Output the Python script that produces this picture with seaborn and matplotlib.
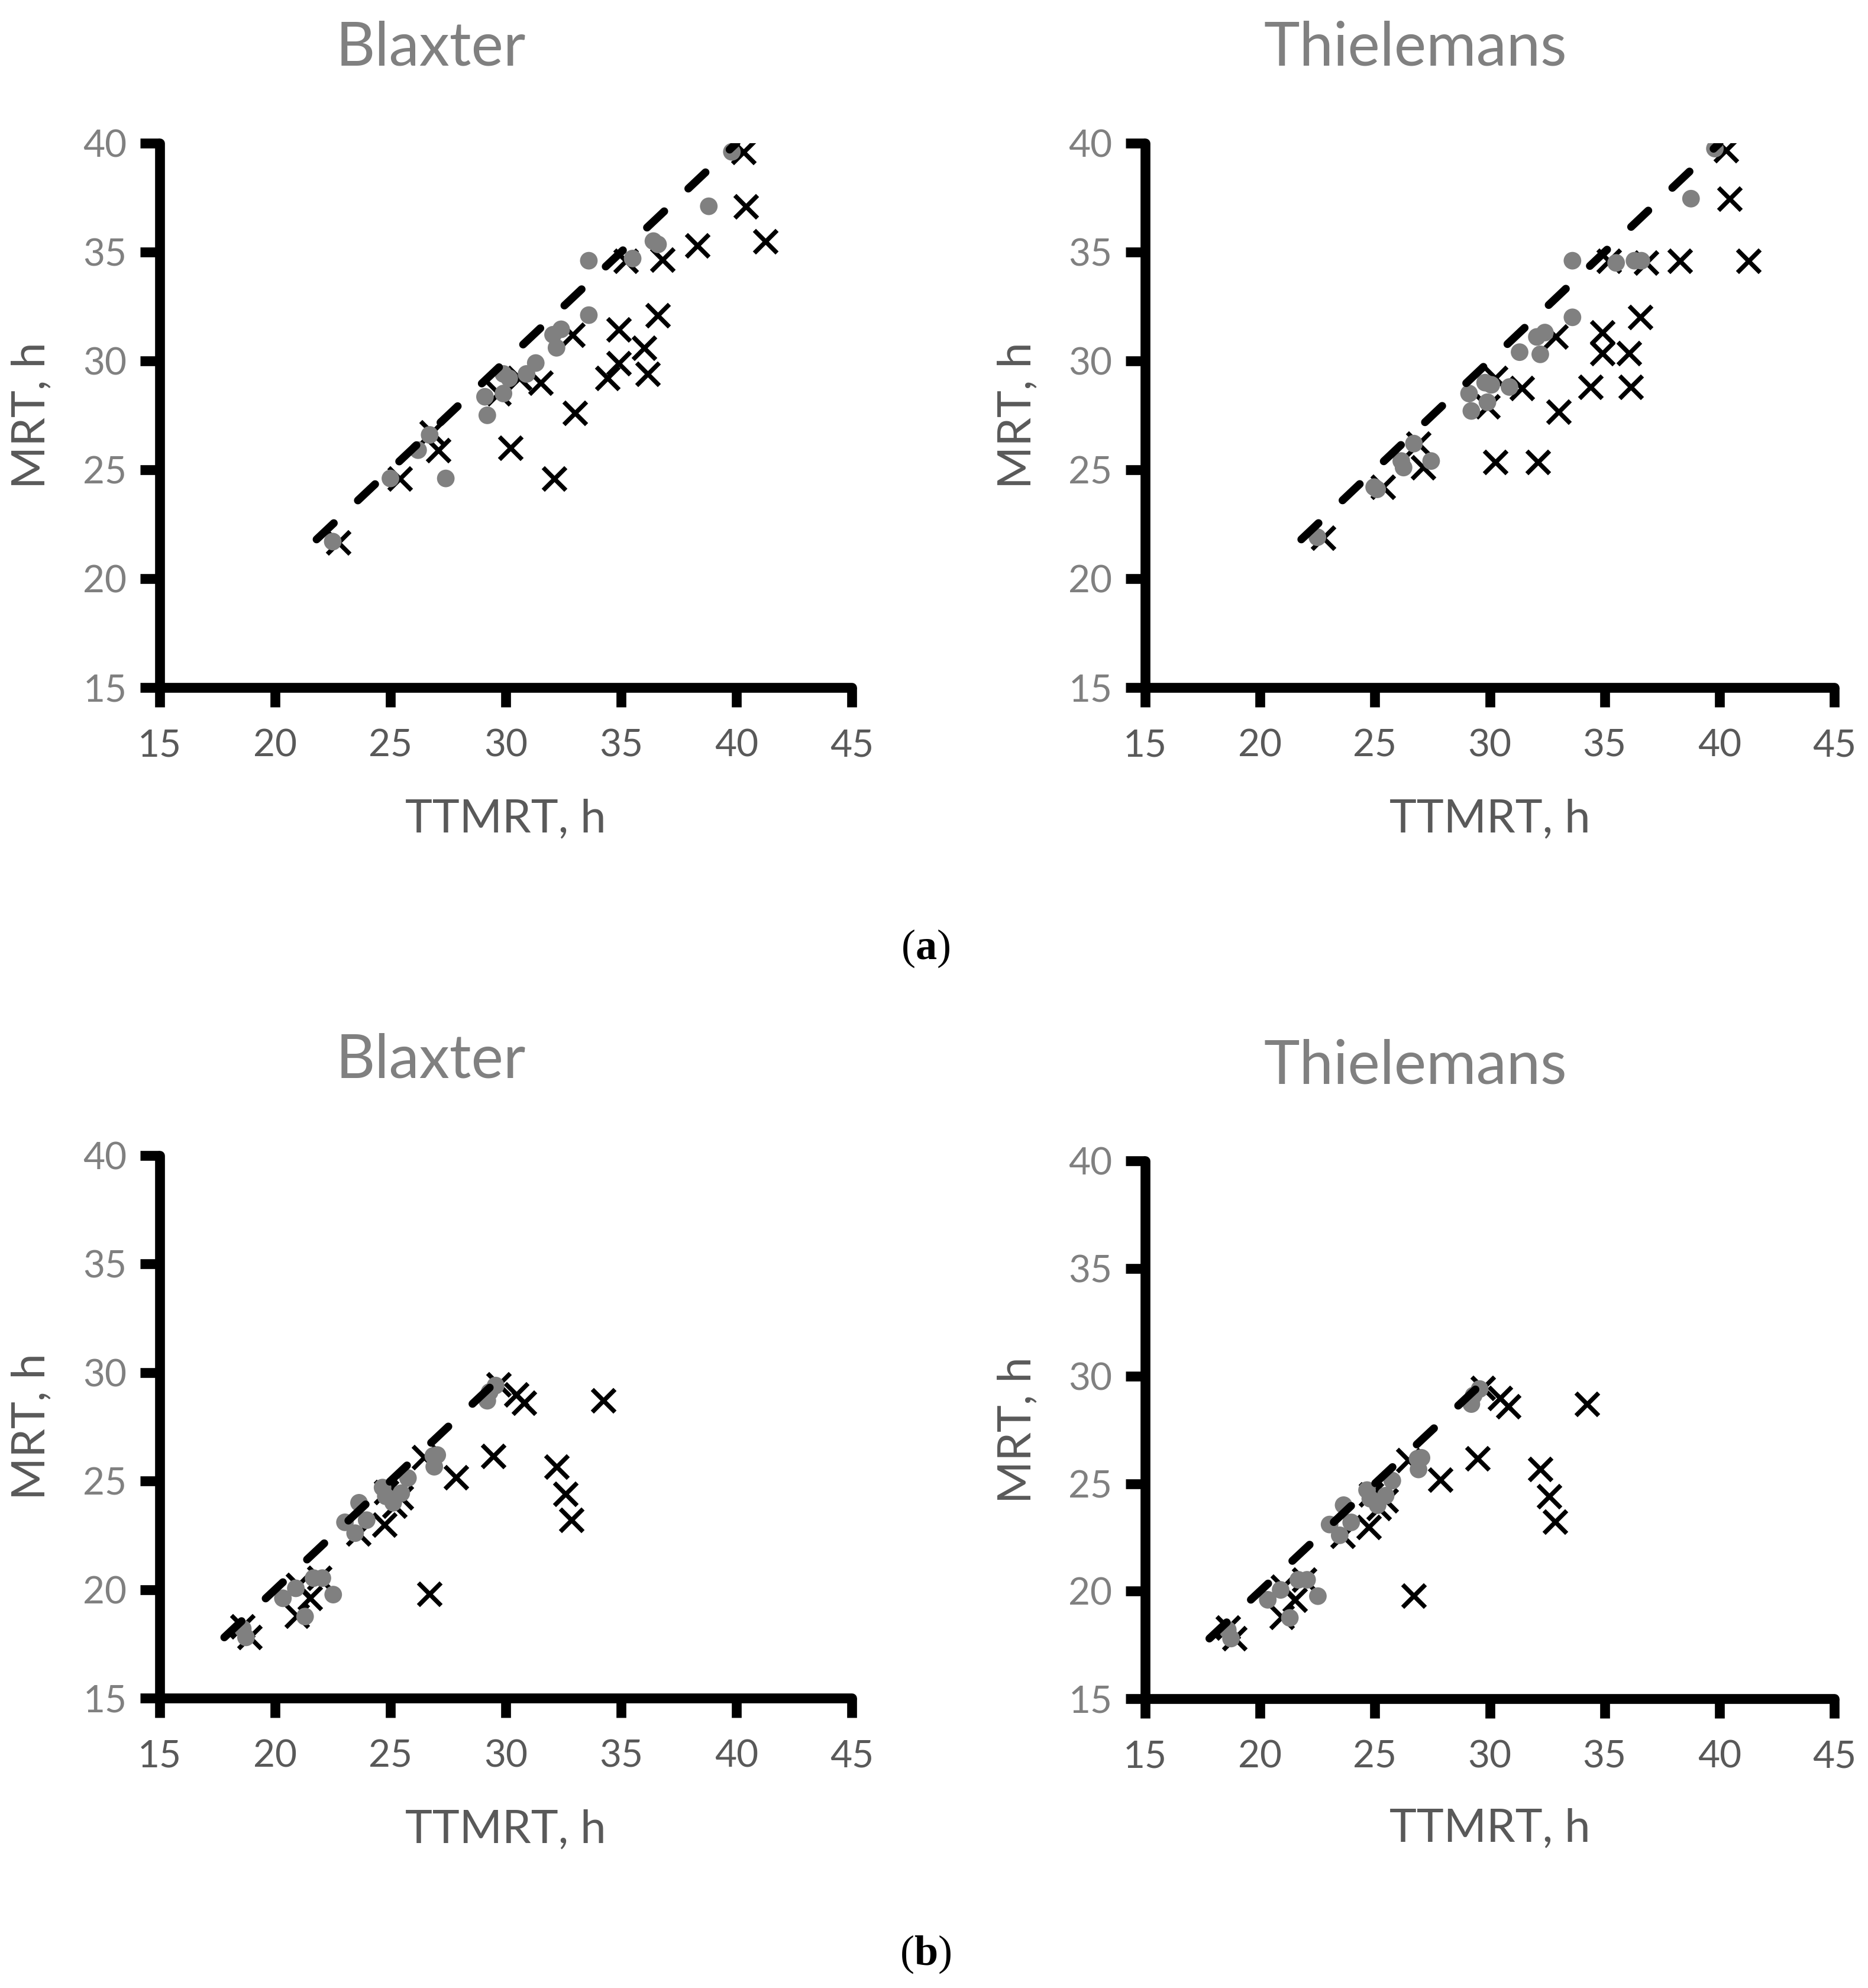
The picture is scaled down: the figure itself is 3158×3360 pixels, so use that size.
import numpy as np
import pandas as pd
import matplotlib
matplotlib.use("Agg")
import matplotlib.pyplot as plt
import seaborn as sns

sns.set_style("white")
plt.rcParams['font.family'] = ['Lato', 'DejaVu Sans']
plt.rcParams['mathtext.fontset'] = 'custom'
plt.rcParams['mathtext.rm'] = 'Liberation Serif'
plt.rcParams['mathtext.bf'] = 'Liberation Serif:bold'

# ---- data ----
# (a) Blaxter
a_bl_circ_x = [22.5, 25.0, 26.2, 26.7, 27.4, 29.1, 29.2, 29.9, 29.9, 30.15, 30.9, 31.3,
               32.05, 32.4, 32.2, 33.6, 33.6, 35.5, 36.4, 36.6, 38.8, 39.8]
a_bl_circ_y = [21.7, 24.6, 25.9, 26.6, 24.6, 28.35, 27.5, 29.4, 28.5, 29.2, 29.4, 29.9,
               31.2, 31.45, 30.6, 34.6, 32.1, 34.7, 35.5, 35.35, 37.1, 39.6]
a_bl_cross_x = [22.75, 25.4, 26.8, 27.07, 29.7, 30.2, 30.6, 31.5, 32.1, 32.9, 33.0, 34.4,
                34.9, 34.9, 35.2, 36.0, 36.15, 36.6, 36.8, 38.3, 40.3, 40.4, 41.25]
a_bl_cross_y = [21.65, 24.6, 26.7, 25.9, 28.5, 26.0, 29.2, 29.0, 24.6, 31.2, 27.6, 29.2,
                29.9, 31.45, 34.6, 30.6, 29.4, 32.1, 34.65, 35.3, 39.6, 37.1, 35.5]

# (a) Thielemans
a_th_circ_x = [22.5, 24.97, 25.1, 26.15, 26.25, 26.7, 27.45, 29.1, 29.2, 29.8, 29.9, 30.07,
               30.86, 31.3, 32.05, 32.2, 32.4, 33.6, 33.6, 35.5, 36.3, 36.6, 38.76, 39.8]
a_th_circ_y = [21.9, 24.2, 24.1, 25.4, 25.1, 26.2, 25.4, 28.5, 27.7, 29.0, 28.1, 28.9,
               28.8, 30.4, 31.1, 30.3, 31.3, 32.0, 34.6, 34.5, 34.6, 34.6, 37.45, 39.75]
a_th_cross_x = [22.75, 25.35, 26.9, 27.1, 29.9, 30.24, 30.24, 31.4, 32.1, 32.87, 33.0, 34.4,
                34.9, 34.9, 35.2, 36.05, 36.15, 36.54, 36.8, 38.27, 40.28, 40.44, 41.26]
a_th_cross_y = [21.87, 24.2, 26.2, 25.1, 27.9, 29.2, 25.35, 28.76, 25.35, 31.1, 27.65, 28.8,
                30.35, 31.3, 34.6, 30.35, 28.8, 32.0, 34.5, 34.6, 39.68, 37.45, 34.6]

# (b) Blaxter and Thielemans (the two panels look the same)
b_circ_x = [18.6, 18.74, 20.34, 20.9, 21.3, 21.67, 22.05, 22.52, 23.03, 23.47, 23.64, 23.97,
            24.66, 24.8, 25.12, 25.47, 25.76, 26.86, 27.03, 26.9, 29.2, 29.3, 29.56]
b_circ_y = [18.2, 17.8, 19.6, 20.06, 18.76, 20.53, 20.53, 19.77, 23.1, 22.6, 24.0, 23.2,
            24.7, 24.3, 24.0, 24.44, 25.14, 26.16, 26.2, 25.66, 28.7, 29.1, 29.4]
b_cross_x = [18.6, 18.9, 20.94, 21.0, 21.52, 21.93, 23.61, 24.74, 24.83, 25.18, 25.47, 26.45,
             26.69, 27.85, 29.47, 29.7, 30.45, 30.8, 32.2, 32.58, 32.84, 34.23]
b_cross_y = [18.3, 17.8, 18.8, 20.2, 19.6, 20.53, 22.57, 22.98, 24.5, 23.87, 24.23, 26.1,
             19.8, 25.17, 26.16, 29.45, 28.98, 28.6, 25.67, 24.41, 23.22, 28.7]

# 1:1 line ends
line_a = [21.8, 40.0]
line_b = [17.8, 29.8]

x_ticks = [15, 20, 25, 30, 35, 40, 45]
y_ticks = [15, 20, 25, 30, 35, 40]

CIRC_COL = '#808080'
DARK_TXT = '#595959'
LIGHT_TXT = '#808080'

fig = plt.figure(figsize=(15.79, 16.8), dpi=200)

panels = [
    # rect, title, title pos, circles, crosses, line
    ([0.0855, 0.6542, 0.3705, 0.2738], 'Blaxter', (0.2305, 0.967),
     a_bl_circ_x, a_bl_circ_y, a_bl_cross_x, a_bl_cross_y, line_a),
    ([0.6130, 0.6542, 0.3690, 0.2738], 'Thielemans', (0.7578, 0.967),
     a_th_circ_x, a_th_circ_y, a_th_cross_x, a_th_cross_y, line_a),
    ([0.0855, 0.1458, 0.3705, 0.2730], 'Blaxter', (0.2305, 0.458),
     b_circ_x, b_circ_y, b_cross_x, b_cross_y, line_b),
    ([0.6130, 0.1455, 0.3690, 0.2705], 'Thielemans', (0.7578, 0.455),
     b_circ_x, b_circ_y, b_cross_x, b_cross_y, line_b),
]

for rect, title, tpos, cx, cy, kx, ky, ln in panels:
    ax = fig.add_axes(rect)
    sns.scatterplot(x=kx, y=ky, ax=ax, marker='x', s=190, color='black',
                    linewidth=2.7, zorder=2)
    sns.scatterplot(x=cx, y=cy, ax=ax, marker='o', s=115, color=CIRC_COL,
                    edgecolor='none', zorder=3)
    sns.lineplot(x=ln, y=ln, ax=ax, color='black', linewidth=4.8,
                 linestyle=(0, (3.0, 4.2)), dash_capstyle='round',
                 estimator=None, sort=False, zorder=4)

    ax.set_xlim(15, 45)
    ax.set_ylim(15, 40)
    ax.set_xticks(x_ticks)
    ax.set_yticks(y_ticks)
    for side in ['top', 'right']:
        ax.spines[side].set_visible(False)
    for side in ['left', 'bottom']:
        ax.spines[side].set_linewidth(6)
        ax.spines[side].set_color('black')
        ax.spines[side].set_capstyle('round')
    ax.tick_params(axis='both', which='major', bottom=True, left=True,
                   direction='out', length=12, width=6, color='black',
                   labelsize=23)
    ax.tick_params(axis='x', pad=13, labelcolor=DARK_TXT)
    ax.tick_params(axis='y', pad=8, labelcolor=LIGHT_TXT)
    ax.set_xlabel('')
    ax.set_ylabel('')
    ax.text(0.5, -0.266, 'TTMRT, h', transform=ax.transAxes, ha='center',
            va='baseline', fontsize=28, color=DARK_TXT)
    ax.text(-0.1846, 0.5, 'MRT, h', transform=ax.transAxes, ha='center',
            va='center', rotation=90, fontsize=28, color=DARK_TXT)
    ax.set_facecolor('white')

    fig.text(tpos[0], tpos[1], title, ha='center', va='baseline', fontsize=37,
             color=LIGHT_TXT)

fig.text(0.4953, 0.523, r'($\mathbf{a}$)', ha='center', va='center', fontsize=26,
         family='Liberation Serif', color='black')
fig.text(0.4953, 0.017, r'($\mathbf{b}$)', ha='center', va='center', fontsize=26,
         family='Liberation Serif', color='black')

fig.savefig('out.png', dpi=200, facecolor='white')
